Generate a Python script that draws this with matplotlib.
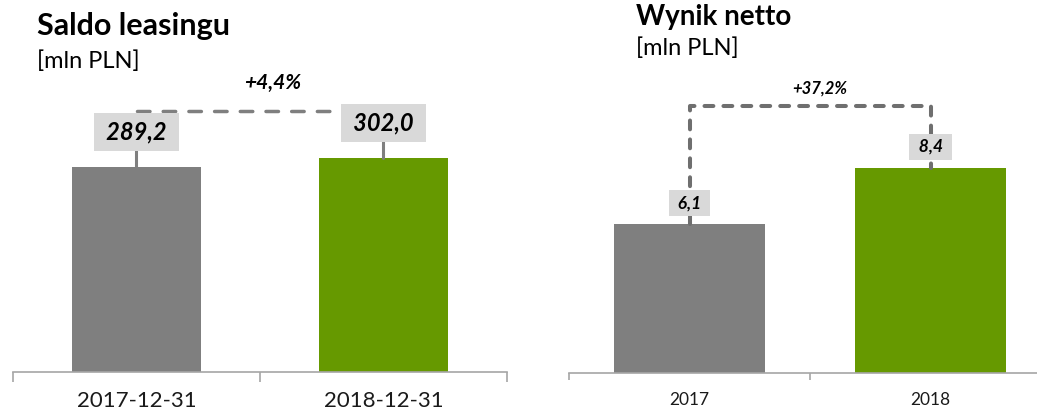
import numpy as np
import matplotlib.pyplot as plt

plt.rcParams['font.family'] = ['Lato', 'DejaVu Sans']

# dane
saldo_kat = ["2017-12-31", "2018-12-31"]
saldo_val = [289.2, 302.0]
saldo_zmiana = "+4,4%"

wynik_kat = ["2017", "2018"]
wynik_val = [6.1, 8.4]
wynik_zmiana = "+37,2%"

kolory = ["#7f7f7f", "#669900"]
szary_linia = "#7f7f7f"
tlo_etykiety = "#d9d9d9"

W, H = 1037, 417
fig = plt.figure(figsize=(W / 100, H / 100), dpi=100)


def osie_px(x0, x1, ydol):
    # osie podane w pikselach obrazka
    return fig.add_axes([x0 / W, (H - ydol) / H, (x1 - x0) / W, ydol / H])


def przygotuj(ax, kat, ymax, tick_len, fs_tick):
    ax.set_xlim(-0.5, 1.5)
    ax.set_ylim(0, ymax)
    for s in ["top", "right", "left"]:
        ax.spines[s].set_visible(False)
    ax.spines["bottom"].set_color("#a6a6a6")
    ax.spines["bottom"].set_linewidth(1.2)
    ax.set_yticks([])
    ax.set_xticks([-0.5, 0.5, 1.5])
    ax.set_xticklabels([])
    ax.tick_params(axis="x", which="major", direction="out", length=tick_len,
                   width=1.2, color="#a6a6a6")
    ax.set_xticks(np.arange(len(kat)), minor=True)
    ax.set_xticklabels(kat, minor=True, fontsize=fs_tick, color="#1a1a1a")
    ax.tick_params(axis="x", which="minor", length=0, pad=14)
    ax.patch.set_alpha(0)


def fmt(v):
    return f"{v:.1f}".replace(".", ",")


# ---- lewy wykres: saldo leasingu
ax1 = osie_px(13, 507, 372)
przygotuj(ax1, saldo_kat, 526, 7, 16)
x = np.arange(len(saldo_val))
ax1.bar(x, saldo_val, width=0.52, color=kolory, zorder=1)

poziom1 = max(saldo_val) * 1.222
ax1.plot([0, 1], [poziom1, poziom1], color=szary_linia, lw=2.5,
         linestyle=(0, (3.6, 3.8)), dash_capstyle="round", zorder=2)
for i, v in enumerate(saldo_val):
    ax1.annotate(" " + fmt(v) + " ", xy=(i, v), xytext=(0, 25.5),
                 textcoords="offset points", ha="center", va="center",
                 fontsize=17, fontweight="bold", fontstyle="italic",
                 bbox=dict(boxstyle="square,pad=0.32", fc=tlo_etykiety, ec="none"),
                 arrowprops=dict(arrowstyle="-", color=szary_linia, lw=2.2,
                                 shrinkA=0, shrinkB=0),
                 zorder=4)
ax1.annotate(saldo_zmiana, xy=(0.5, poziom1), xytext=(9, 20),
             textcoords="offset points", ha="center", va="center",
             fontsize=15, fontweight="bold", fontstyle="italic")

# ---- prawy wykres: wynik netto
ax2 = osie_px(569, 1051, 373)
przygotuj(ax2, wynik_kat, 15.26, 5, 12.5)
x = np.arange(len(wynik_val))
ax2.bar(x, wynik_val, width=0.63, color=kolory, zorder=1)

poziom2 = max(wynik_val) * 1.30
ax2.plot([0, 0, 1, 1], [wynik_val[0], poziom2, poziom2, wynik_val[1]],
         color="#6f6f6f", lw=2.9, linestyle=(0, (2.2, 2.5)),
         dash_capstyle="round", zorder=2)
for i, v in enumerate(wynik_val):
    ax2.annotate(" " + fmt(v) + " ", xy=(i, v), xytext=(0, 15),
                 textcoords="offset points", ha="center", va="center",
                 fontsize=12.5, fontweight="bold", fontstyle="italic",
                 bbox=dict(boxstyle="square,pad=0.3", fc=tlo_etykiety, ec="none"),
                 zorder=4)
ax2.annotate(wynik_zmiana, xy=(0.5, poziom2), xytext=(7, 13),
             textcoords="offset points", ha="center", va="center",
             fontsize=12, fontweight="bold", fontstyle="italic")

# ---- tytuly
fig.text(37 / W, 1 - 26 / H, "Saldo leasingu", fontsize=22, fontweight="bold",
         va="center", ha="left")
fig.text(37 / W, 1 - 61 / H, "[mln PLN]", fontsize=17, va="center", ha="left")
fig.text(636 / W, 1 - 17 / H, "Wynik netto", fontsize=20, fontweight="bold",
         va="center", ha="left")
fig.text(636 / W, 1 - 48 / H, "[mln PLN]", fontsize=17, va="center", ha="left")

fig.savefig("out.png", dpi=100)
